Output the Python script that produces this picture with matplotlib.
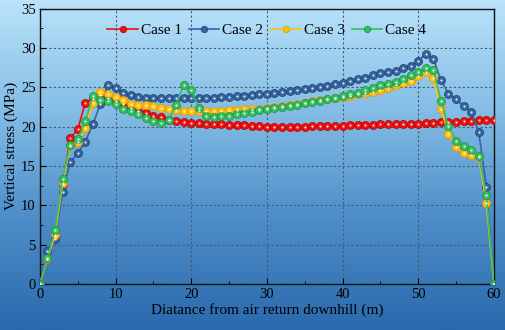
import matplotlib
matplotlib.use("Agg")
import matplotlib.pyplot as plt
import numpy as np
from matplotlib.colors import LinearSegmentedColormap

plt.rcParams['font.family'] = ['Liberation Serif', 'DejaVu Serif']

# distance along the face (m), one point per metre
distance = list(range(0, 61))

case1 = [0, 3.2, 6.1, 12.7, 18.5, 19.7, 23.0, 23.5, 24.0, 23.7,
         23.3, 22.9, 22.4, 22.0, 21.7, 21.4, 21.2, 20.9, 20.75, 20.6,
         20.5, 20.45, 20.4, 20.35, 20.3, 20.25, 20.2, 20.15, 20.1, 20.05,
         20.0, 20.0, 20.0, 20.0, 20.0, 20.0, 20.05, 20.05, 20.1, 20.1,
         20.1, 20.15, 20.15, 20.2, 20.2, 20.3, 20.3, 20.35, 20.35, 20.4,
         20.4, 20.5, 20.5, 20.55, 20.6, 20.6, 20.7, 20.75, 20.8, 20.85,
         20.9]
case2 = [0, 4.2, 5.7, 11.7, 15.5, 16.6, 18.1, 20.3, 22.9, 25.3,
         24.9, 24.3, 24.0, 23.8, 23.7, 23.7, 23.6, 23.6, 23.6, 23.6,
         23.6, 23.65, 23.7, 23.7, 23.75, 23.8, 23.85, 23.9, 24.0, 24.1,
         24.2, 24.3, 24.4, 24.5, 24.6, 24.75, 24.9, 25.0, 25.2, 25.4,
         25.6, 25.8, 26.0, 26.2, 26.5, 26.8, 27.0, 27.1, 27.4, 27.7,
         28.4, 29.2, 28.6, 25.9, 24.2, 23.5, 22.6, 21.9, 19.3, 12.4,
         0]
case3 = [0, 3.2, 6.2, 12.8, 17.5, 18.0, 19.8, 23.0, 24.4, 24.1,
         23.8, 23.4, 22.9, 22.7, 22.7, 22.6, 22.4, 22.3, 22.1, 22.0,
         22.0, 22.0, 22.0, 22.0, 22.05, 22.1, 22.15, 22.2, 22.25, 22.3,
         22.35, 22.45, 22.6, 22.75, 22.9, 23.05, 23.2, 23.35, 23.5, 23.65,
         23.8, 23.95, 24.1, 24.25, 24.45, 24.6, 24.9, 25.3, 25.5, 25.8,
         26.4, 27.0, 26.2, 22.3, 19.1, 17.4, 16.7, 16.4, 16.1, 10.3,
         0]
case4 = [0, 3.3, 6.9, 13.4, 17.7, 18.4, 20.7, 23.9, 23.4, 23.2,
         22.9, 22.3, 22.0, 21.6, 21.1, 20.7, 20.5, 20.8, 22.8, 25.3,
         24.6, 22.4, 21.3, 21.2, 21.3, 21.4, 21.6, 21.7, 21.9, 22.1,
         22.2, 22.35, 22.5, 22.65, 22.8, 23.0, 23.15, 23.3, 23.5, 23.7,
         23.9, 24.1, 24.3, 24.6, 24.9, 25.3, 25.4, 25.7, 26.0, 26.6,
         27.0, 27.5, 27.2, 23.3, 20.1, 18.2, 17.5, 17.0, 16.3, 11.3,
         0]

series = [
    ("Case 1", case1, "#F01010", "#B00000"),
    ("Case 2", case2, "#3565A0", "#1E3F6E"),
    ("Case 3", case3, "#FFC010", "#D89A00"),
    ("Case 4", case4, "#35C060", "#1E8A3E"),
]

fig = plt.figure(figsize=(5.05, 3.3), dpi=100)

# blue gradient behind everything
bg = fig.add_axes([0, 0, 1, 1], zorder=0)
grad = np.linspace(0, 1, 256).reshape(-1, 1)
cmap = LinearSegmentedColormap.from_list("bg", ["#BAE3FA", "#84BDE6", "#4C8DC8", "#2A69AC"])
bg.imshow(grad, aspect="auto", cmap=cmap, extent=[0, 1, 0, 1], origin="upper")
bg.axis("off")

ax = fig.add_axes([0.079, 0.139, 0.899, 0.835], zorder=1)
ax.patch.set_alpha(0)

for label, vals, color, edge in series:
    ax.plot(distance, vals, color=color, lw=1.2, marker="o", markersize=5.8,
            markerfacecolor=color, markeredgecolor=edge, markeredgewidth=0.5,
            label=label, zorder=3)
    # small highlight so the markers look like balls
    ax.plot(distance, vals, ls="none", marker="o", markersize=1.6,
            markerfacecolor="white", markeredgecolor="none", alpha=0.85, zorder=4)

ax.set_xlim(0, 60)
ax.set_ylim(0, 35)
ax.set_xticks(range(0, 61, 10))
ax.set_yticks(range(0, 36, 5))
ax.set_xticks(range(5, 60, 10), minor=True)
ax.set_yticks(np.arange(2.5, 35, 5), minor=True)
ax.tick_params(which="both", direction="in", top=False, right=False, labelsize=10.5, pad=3)
ax.tick_params(which="major", length=4)
ax.tick_params(which="minor", length=2)
ax.grid(True, which="major", ls=(0, (2, 2)), color="#4A5A6A", lw=0.8)
ax.set_axisbelow(True)
for sp in ax.spines.values():
    sp.set_linewidth(1.0)
    sp.set_color("#111111")

ax.set_xlabel("Diatance from air return downhill (m)", fontsize=11, labelpad=1)
ax.set_ylabel("Vertical stress (MPa)", fontsize=11, labelpad=2)

ax.legend(loc="upper center", bbox_to_anchor=(0.5, 0.995), ncol=4, frameon=False,
          fontsize=11, handlelength=2.0, handletextpad=0.2, columnspacing=0.45,
          markerscale=0.8)

fig.savefig("out.png", dpi=100)
